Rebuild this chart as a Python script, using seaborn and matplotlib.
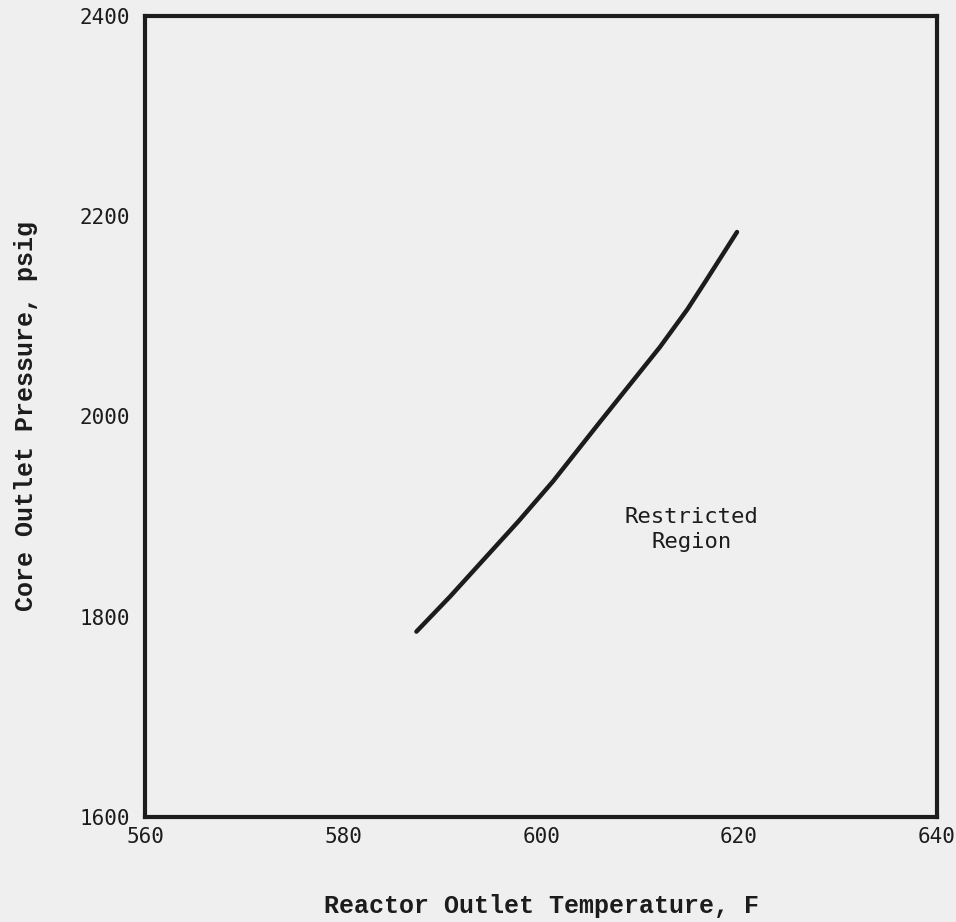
import matplotlib
matplotlib.use("Agg")
import matplotlib.pyplot as plt
import seaborn as sns
import pandas as pd

# Limit curve: reactor outlet temperature (F) vs core outlet pressure (psig)
temperature = [587.4, 590.8, 594.2, 597.7, 601.2, 606.0, 609.0, 612.0, 614.8, 616.7, 619.8]
pressure = [1785, 1820, 1857, 1895, 1935, 1995, 2032, 2069, 2107, 2136, 2184]

x_ticks = [560, 580, 600, 620, 640]
y_ticks = [1600, 1800, 2000, 2200, 2400]

df = pd.DataFrame({"temperature": temperature, "pressure": pressure})

sns.set_style("white")
bg = "#efefef"
ink = "#1c1c1c"

fig = plt.figure(figsize=(9.56, 9.22), dpi=100, facecolor=bg)
ax = fig.add_axes([0.152, 0.114, 0.828, 0.869])
ax.set_facecolor(bg)

sns.lineplot(data=df, x="temperature", y="pressure", ax=ax,
             color=ink, linewidth=3.2, sort=False, estimator=None,
             solid_capstyle="round", solid_joinstyle="round")

ax.set_xlim(560, 640)
ax.set_ylim(1600, 2400)
ax.set_xticks(x_ticks)
ax.set_yticks(y_ticks)
ax.set_xticklabels([str(t) for t in x_ticks], family="DejaVu Sans Mono", fontsize=15, color=ink)
ax.set_yticklabels([str(t) for t in y_ticks], family="DejaVu Sans Mono", fontsize=15, color=ink)
ax.tick_params(direction="in", length=12, width=1.3, color=ink)
ax.tick_params(axis="x", pad=7)
ax.tick_params(axis="y", pad=11)

for side in ax.spines.values():
    side.set_visible(True)
    side.set_linewidth(3.0)
    side.set_color(ink)

ax.set_xlabel("Reactor Outlet Temperature, F", family="Liberation Mono",
              fontsize=18, fontweight="bold", color=ink, labelpad=34)
ax.set_ylabel("Core Outlet Pressure, psig", family="Liberation Mono",
              fontsize=18, fontweight="bold", color=ink, labelpad=30)

ax.text(615.2, 1887, "Restricted\nRegion", family="DejaVu Sans Mono", fontsize=16,
        color=ink, ha="center", va="center", linespacing=1.3)

fig.savefig("out.png", dpi=100, facecolor=bg)
